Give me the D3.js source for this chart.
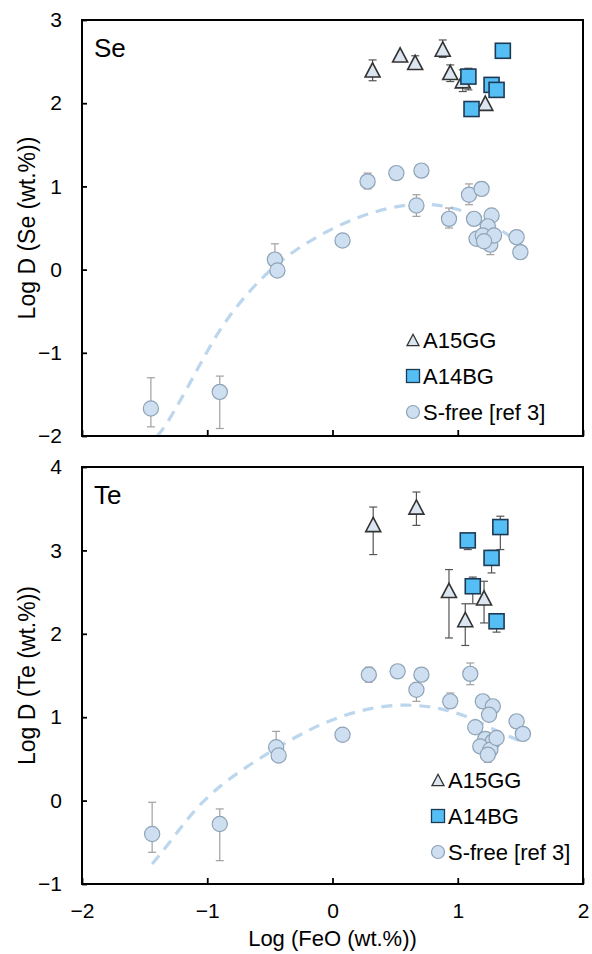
<!DOCTYPE html>
<html>
<head>
<meta charset="utf-8">
<script src="https://cdn.jsdelivr.net/npm/d3@7"></script>
<style>
  html, body { margin: 0; padding: 0; background: #fff; }
  svg { display: block; font-family: "Liberation Sans", Arial, sans-serif; }
</style>
</head>
<body>
<svg id="chart" width="592" height="954"></svg>
<script>
// ---- tick values ----
const xTicks = [-2, -1, 0, 1, 2];
const seTicks = [3, 2, 1, 0, -1, -2];
const teTicks = [4, 3, 2, 1, 0, -1];

// ---- Se panel ----
const seTriX = [0.32, 0.54, 0.66, 0.88, 0.94, 1.04, 1.22];
const seTriY = [2.40, 2.58, 2.49, 2.65, 2.37, 2.27, 2.00];
const seTriLo = [2.27, null, null, 2.55, 2.26, 2.14, null];
const seTriHi = [2.52, null, 2.57, 2.76, 2.46, 2.40, null];

const seSqX = [1.36, 1.085, 1.27, 1.31, 1.11];
const seSqY = [2.63, 2.32, 2.22, 2.16, 1.93];
const seSqLo = [null, 2.16, null, null, null];
const seSqHi = [null, 2.42, null, null, null];

const seCirX = [-1.45, -0.90, -0.46, -0.44, 0.08, 0.28, 0.51, 0.71, 0.67, 0.93, 1.09, 1.19,
  1.13, 1.27, 1.15, 1.24, 1.20, 1.26, 1.29, 1.21, 1.47, 1.50];
const seCirY = [-1.67, -1.47, 0.12, -0.01, 0.35, 1.06, 1.16, 1.19, 0.77, 0.61, 0.90, 0.97,
  0.61, 0.65, 0.37, 0.52, 0.41, 0.30, 0.41, 0.34, 0.39, 0.21];
const seCirLo = [-1.89, -1.91, null, null, null, 0.97, null, null, 0.64, 0.50, 0.78, null,
  null, null, null, null, null, 0.18, null, null, null, null];
const seCirHi = [-1.30, -1.28, 0.31, null, null, 1.16, null, null, 0.90, 0.74, 1.03, 1.05,
  null, null, null, null, null, null, null, null, null, null];

const seFitX = [-1.40, -1.33, -1.12, -0.91, -0.67, -0.43, -0.13, 0.20, 0.54, 0.81, 1.11, 1.41, 1.55];
const seFitY = [-2.00, -1.88, -1.32, -0.72, -0.26, 0.10, 0.40, 0.64, 0.78, 0.80, 0.69, 0.42, 0.24];

// ---- Te panel ----
const teTriX = [0.325, 0.67, 0.93, 1.06, 1.21];
const teTriY = [3.31, 3.52, 2.52, 2.17, 2.43];
const teTriLo = [2.95, 3.30, 1.95, 1.86, 2.13];
const teTriHi = [3.52, 3.70, 2.77, 2.36, 2.63];

const teSqX = [1.08, 1.34, 1.27, 1.12, 1.31];
const teSqY = [3.12, 3.28, 2.91, 2.57, 2.15];
const teSqLo = [3.01, 3.01, 2.73, 2.36, 2.02];
const teSqHi = [null, 3.41, 3.00, 2.68, null];

const teCirX = [-1.44, -0.90, -0.45, -0.43, 0.08, 0.29, 0.52, 0.71, 0.67, 0.94, 1.10, 1.20,
  1.28, 1.25, 1.14, 1.47, 1.52, 1.22, 1.28, 1.18, 1.26, 1.31, 1.24];
const teCirY = [-0.40, -0.28, 0.64, 0.54, 0.79, 1.51, 1.55, 1.51, 1.33, 1.19, 1.52, 1.19,
  1.13, 1.03, 0.88, 0.95, 0.80, 0.74, 0.71, 0.65, 0.61, 0.75, 0.55];
const teCirLo = [-0.62, -0.72, null, null, null, 1.42, null, null, 1.19, null, 1.39, null,
  null, null, null, null, null, null, null, null, null, null, 0.46];
const teCirHi = [-0.02, -0.10, 0.83, null, null, 1.60, null, null, null, 1.29, 1.65, null,
  null, null, null, null, null, null, null, null, null, null, null];

const teFitX = [-1.44, -1.33, -1.21, -1.06, -0.85, -0.61, -0.37, -0.10, 0.20, 0.51, 0.79, 0.95, 1.11, 1.26, 1.44, 1.52];
const teFitY = [-0.76, -0.56, -0.32, -0.04, 0.24, 0.48, 0.70, 0.92, 1.08, 1.16, 1.13, 1.07, 0.99, 0.87, 0.75, 0.70];

const legendLabels = ["A15GG", "A14BG", "S-free [ref 3]"];

// ---- layout ----
const X0 = 82, X1 = 583;
const FONT = '"Liberation Sans", Arial, sans-serif';
const svg = d3.select("#chart");
const x = d3.scaleLinear().domain([-2, 2]).range([X0, X1]);

const CIR_FILL = "#cddff0", CIR_STROKE = "#8fa3b6";
const TRI_FILL = "#dbe6f1", TRI_STROKE = "#333";
const SQ_FILL = "#55bff5", SQ_STROKE = "#1d3a55";

function triPath(w) {
  const h = w * 0.95;
  return `M0,${-h / 2}L${w / 2},${h / 2}L${-w / 2},${h / 2}Z`;
}

function errorBars(g, y, xs, ys, lo, hi, color) {
  xs.forEach((xv, i) => {
    if (lo[i] == null && hi[i] == null) return;
    const a = lo[i] != null ? lo[i] : ys[i];
    const b = hi[i] != null ? hi[i] : ys[i];
    const px = x(xv);
    g.append("line").attr("x1", px).attr("x2", px).attr("y1", y(a)).attr("y2", y(b))
      .attr("stroke", color).attr("stroke-width", 1.2);
    [lo[i], hi[i]].forEach((v) => {
      if (v == null) return;
      g.append("line").attr("x1", px - 4).attr("x2", px + 4).attr("y1", y(v)).attr("y2", y(v))
        .attr("stroke", color).attr("stroke-width", 1.2);
    });
  });
}

function panel(cfg) {
  const y = d3.scaleLinear().domain([cfg.ticks[cfg.ticks.length - 1], cfg.ticks[0]]).range([cfg.bottom, cfg.top]);
  const g = svg.append("g");

  svg.append("clipPath").attr("id", cfg.id + "-clip")
    .append("rect").attr("x", X0).attr("y", cfg.top).attr("width", X1 - X0).attr("height", cfg.bottom - cfg.top);

  // dashed fit line
  g.append("path")
    .datum(d3.zip(cfg.fitX, cfg.fitY))
    .attr("clip-path", `url(#${cfg.id}-clip)`)
    .attr("d", d3.line().x((d) => x(d[0])).y((d) => y(d[1])).curve(d3.curveBasis))
    .attr("fill", "none").attr("stroke", "#bcd6ee").attr("stroke-width", 3.2)
    .attr("stroke-dasharray", "11,8");

  // S-free circles
  errorBars(g, y, cfg.cirX, cfg.cirY, cfg.cirLo, cfg.cirHi, "#a0a0a0");
  g.selectAll(null).data(d3.zip(cfg.cirX, cfg.cirY)).join("circle")
    .attr("cx", (d) => x(d[0])).attr("cy", (d) => y(d[1])).attr("r", 7.6)
    .attr("fill", CIR_FILL).attr("stroke", CIR_STROKE).attr("stroke-width", 1.2);

  // A15GG triangles
  errorBars(g, y, cfg.triX, cfg.triY, cfg.triLo, cfg.triHi, "#555");
  g.selectAll(null).data(d3.zip(cfg.triX, cfg.triY)).join("path")
    .attr("transform", (d) => `translate(${x(d[0])},${y(d[1])})`)
    .attr("d", triPath(15))
    .attr("fill", TRI_FILL).attr("stroke", TRI_STROKE).attr("stroke-width", 1.6);

  // A14BG squares
  errorBars(g, y, cfg.sqX, cfg.sqY, cfg.sqLo, cfg.sqHi, "#555");
  g.selectAll(null).data(d3.zip(cfg.sqX, cfg.sqY)).join("rect")
    .attr("x", (d) => x(d[0]) - 7.5).attr("y", (d) => y(d[1]) - 7.5)
    .attr("width", 15).attr("height", 15)
    .attr("fill", SQ_FILL).attr("stroke", SQ_STROKE).attr("stroke-width", 1.6);

  // axes, ticks pointing inward
  const ya = g.append("g").attr("transform", `translate(${X0},0)`)
    .call(d3.axisLeft(y).tickValues(cfg.ticks).tickFormat(d3.format("d")).tickSizeInner(-5).tickSizeOuter(0).tickPadding(20));
  const xa = g.append("g").attr("transform", `translate(0,${cfg.bottom})`)
    .call(d3.axisBottom(x).tickValues(xTicks).tickFormat(cfg.xLabels ? d3.format("d") : "").tickSizeInner(-6).tickSizeOuter(0).tickPadding(19));
  [ya, xa].forEach((a) => {
    a.select(".domain").remove();
    a.selectAll("line").attr("stroke", "#000").attr("stroke-width", 1.8);
    a.selectAll("text").attr("fill", "#000").attr("font-size", 21).attr("font-family", FONT);
  });

  // frame
  g.append("rect").attr("x", X0).attr("y", cfg.top).attr("width", X1 - X0).attr("height", cfg.bottom - cfg.top)
    .attr("fill", "none").attr("stroke", "#000").attr("stroke-width", 2);

  // panel tag
  g.append("text").attr("x", X0 + 12).attr("y", cfg.top + 37).attr("font-size", 26).text(cfg.tag);

  // y title
  g.append("text").attr("transform", `translate(27,${(cfg.top + cfg.bottom) / 2}) rotate(-90)`)
    .attr("text-anchor", "middle").attr("dy", "0.35em").attr("font-size", 23).text(cfg.yTitle);

  // legend
  const lg = g.append("g").attr("transform", `translate(${cfg.legX},${cfg.legY})`);
  legendLabels.forEach((lab, i) => {
    const row = lg.append("g").attr("transform", `translate(0,${i * 36})`);
    if (i === 0) row.append("path").attr("d", triPath(12)).attr("fill", TRI_FILL).attr("stroke", TRI_STROKE).attr("stroke-width", 1.3);
    if (i === 1) row.append("rect").attr("x", -6.5).attr("y", -6.5).attr("width", 13).attr("height", 13)
      .attr("fill", SQ_FILL).attr("stroke", SQ_STROKE).attr("stroke-width", 1.3);
    if (i === 2) row.append("circle").attr("r", 6.5).attr("fill", CIR_FILL).attr("stroke", CIR_STROKE).attr("stroke-width", 1.2);
    row.append("text").attr("x", 10).attr("dy", "0.36em").attr("font-size", 22).text(lab);
  });
}

panel({
  id: "se", top: 20, bottom: 436, ticks: seTicks, tag: "Se", yTitle: "Log D (Se (wt.%))", xLabels: false,
  triX: seTriX, triY: seTriY, triLo: seTriLo, triHi: seTriHi,
  sqX: seSqX, sqY: seSqY, sqLo: seSqLo, sqHi: seSqHi,
  cirX: seCirX, cirY: seCirY, cirLo: seCirLo, cirHi: seCirHi,
  fitX: seFitX, fitY: seFitY, legX: 413, legY: 340,
});

panel({
  id: "te", top: 467, bottom: 884, ticks: teTicks, tag: "Te", yTitle: "Log D (Te (wt.%))", xLabels: true,
  triX: teTriX, triY: teTriY, triLo: teTriLo, triHi: teTriHi,
  sqX: teSqX, sqY: teSqY, sqLo: teSqLo, sqHi: teSqHi,
  cirX: teCirX, cirY: teCirY, cirLo: teCirLo, cirHi: teCirHi,
  fitX: teFitX, fitY: teFitY, legX: 438, legY: 780,
});

svg.append("text").attr("x", (X0 + X1) / 2).attr("y", 938).attr("dy", "0.35em")
  .attr("text-anchor", "middle").attr("font-size", 22).text("Log (FeO (wt.%))");
</script>
</body>
</html>
